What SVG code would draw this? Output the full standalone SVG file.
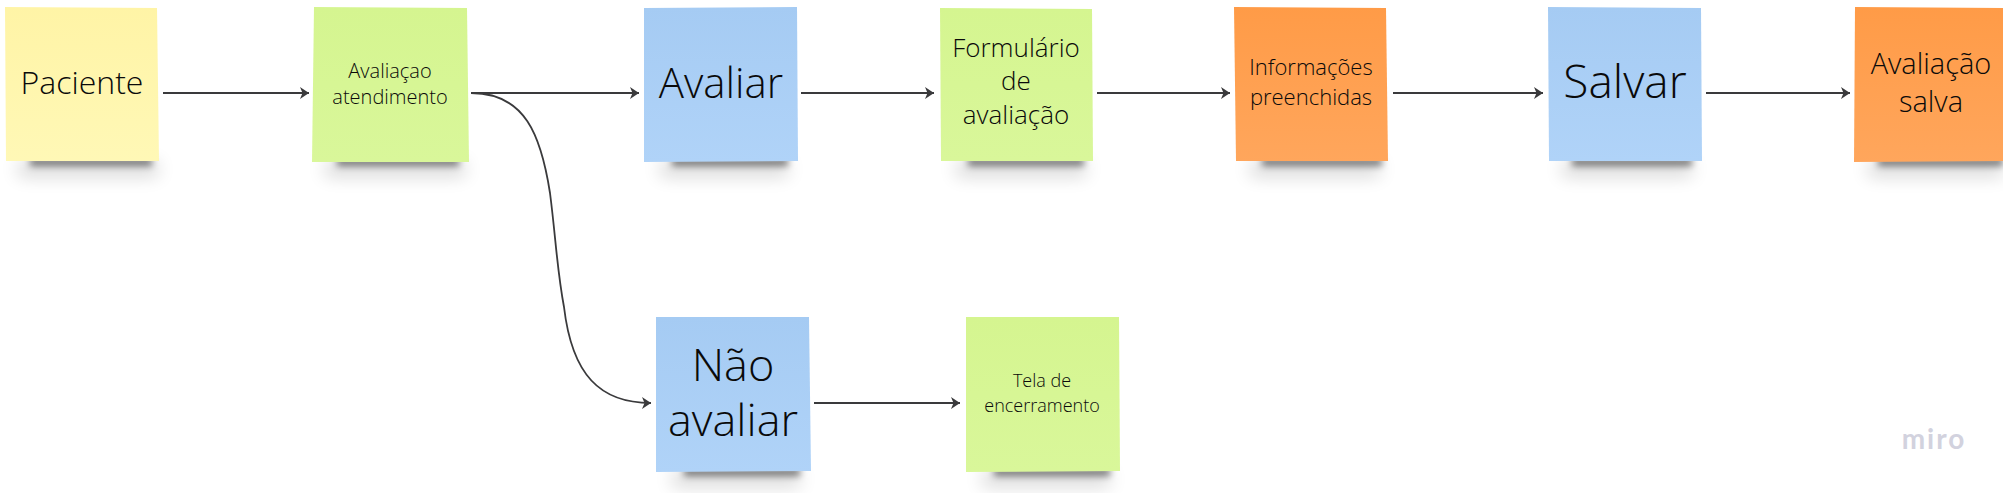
<svg xmlns="http://www.w3.org/2000/svg" width="2003" height="493" viewBox="0 0 2003 493">
<style>
text{font-family:"Open Sans","Noto Sans","Liberation Sans",sans-serif;font-weight:300;fill:#0a0a0a;text-anchor:middle}
.con{fill:none;stroke:#3a3a3c;stroke-width:1.8;marker-end:url(#arr)}
.s1{fill:#000;opacity:.5;filter:url(#b1)}
.s2{fill:#000;opacity:.17;filter:url(#b2)}
.y{fill:url(#gy)}.g{fill:url(#gg)}.b{fill:url(#gb)}.o{fill:url(#go)}
</style>
<defs>
<marker id="arr" viewBox="0 0 10 12" refX="9.500" refY="6" markerWidth="10" markerHeight="12" markerUnits="userSpaceOnUse" orient="auto"><path d="M0.500 0L9.500 6L0.500 12L3 6Z" fill="#3a3a3c"/></marker>
<filter id="b1" x="-30%" y="-300%" width="160%" height="700%"><feGaussianBlur stdDeviation="3.500"/></filter>
<filter id="b2" x="-30%" y="-300%" width="160%" height="700%"><feGaussianBlur stdDeviation="9"/></filter>
<linearGradient id="gy" x1="0" y1="0" x2="0" y2="1"><stop offset="0" stop-color="#fff4a6"/><stop offset="1" stop-color="#fff8b6"/></linearGradient>
<linearGradient id="gg" x1="0" y1="0" x2="0" y2="1"><stop offset="0" stop-color="#d5f590"/><stop offset="1" stop-color="#d9f79a"/></linearGradient>
<linearGradient id="gb" x1="0" y1="0" x2="0" y2="1"><stop offset="0" stop-color="#a5cbf3"/><stop offset="1" stop-color="#b0d3f8"/></linearGradient>
<linearGradient id="go" x1="0" y1="0" x2="0" y2="1"><stop offset="0" stop-color="#ff9b47"/><stop offset="1" stop-color="#ffa65c"/></linearGradient>
</defs>
<g id="connectors">
<path class="con" d="M163 93H309"/>
<path class="con" d="M471 93H639"/>
<path class="con" stroke-width="1.500" d="M471 93C525 93 541 135 550 193C556 240 557 270 564 307C572 375 600 403 651 403"/>
<path class="con" d="M801 93H934"/>
<path class="con" d="M1097 93H1230"/>
<path class="con" d="M1393 93H1543"/>
<path class="con" d="M1706 93H1850"/>
<path class="con" d="M814 403H960"/>
</g>
<g id="paciente"><rect class="s2" x="18" y="162" width="140" height="14"/><rect class="s1" x="30" y="158" width="122" height="8"/><path class="y" d="M5 7L157 8L159 161H6Z"/><text x="82" y="94" font-size="32">Paciente</text></g>
<g id="avaliacao-atendimento"><rect class="s2" x="325" y="162" width="140" height="14"/><rect class="s1" x="337" y="158" width="122" height="8"/><path class="g" d="M314 7L467 8L469 162H312Z"/><text x="390" y="78" font-size="20">Avaliaçao</text><text x="390" y="104" font-size="20">atendimento</text></g>
<g id="avaliar"><rect class="s2" x="660" y="162" width="128" height="14"/><rect class="s1" x="672" y="158" width="116" height="8"/><path class="b" d="M644 8L797 7L798 161L644 162Z"/><text x="721" y="98" font-size="42">Avaliar</text></g>
<g id="formulario"><rect class="s2" x="956" y="162" width="130" height="14"/><rect class="s1" x="968" y="158" width="116" height="8"/><path class="g" d="M940 8L1092 9L1093 161H941Z"/><text x="1016" y="57" font-size="26">Formulário</text><text x="1016" y="90" font-size="26">de</text><text x="1016" y="124" font-size="26">avaliação</text></g>
<g id="informacoes"><rect class="s2" x="1250" y="162" width="130" height="14"/><rect class="s1" x="1262" y="158" width="120" height="8"/><path class="o" d="M1234 7L1386 8L1388 161H1236Z"/><text x="1311" y="75" font-size="22">Informações</text><text x="1311" y="105" font-size="22">preenchidas</text></g>
<g id="salvar"><rect class="s2" x="1562" y="162" width="130" height="14"/><rect class="s1" x="1572" y="158" width="120" height="8"/><path class="b" d="M1548 7L1701 8L1702 161H1549Z"/><text x="1625" y="98" font-size="46">Salvar</text></g>
<g id="avaliacao-salva"><rect class="s2" x="1868" y="162" width="135" height="14"/><rect class="s1" x="1878" y="158" width="125" height="8"/><path class="o" d="M1855 7L2003 8V161L1854 162Z"/><text x="1931" y="74" font-size="29">Avaliação</text><text x="1931" y="112" font-size="29">salva</text></g>
<g id="nao-avaliar"><rect class="s2" x="672" y="472" width="128" height="14"/><rect class="s1" x="684" y="468" width="116" height="8"/><path class="b" d="M656 317H809L811 471L656 472Z"/><text x="733" y="381" font-size="45">Não</text><text x="733" y="436" font-size="45">avaliar</text></g>
<g id="tela"><rect class="s2" x="982" y="472" width="128" height="14"/><rect class="s1" x="994" y="468" width="116" height="8"/><path class="g" d="M966 317H1119L1120 471L966 472Z"/><text x="1042" y="387" font-size="18">Tela de</text><text x="1042" y="412" font-size="18">encerramento</text></g>
<text x="1934" y="449" style="font-family:Lato,'Open Sans',sans-serif;fill:#d2d2de;font-weight:700" font-size="28" letter-spacing="2">miro</text>
</svg>
